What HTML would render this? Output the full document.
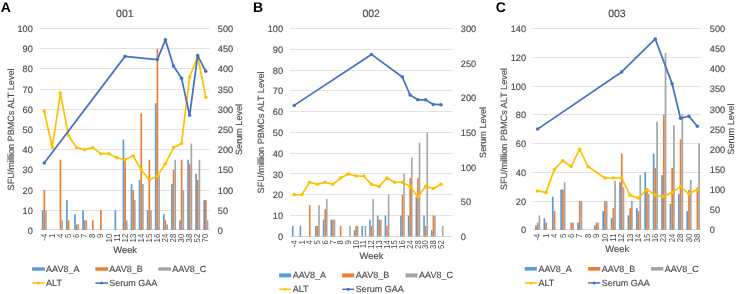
<!DOCTYPE html>
<html><head><meta charset="utf-8"><style>
html,body{margin:0;padding:0;background:#fff;}
body{width:738px;height:294px;overflow:hidden;}
svg{display:block;will-change:transform;}
text{font-family:"Liberation Sans",sans-serif;text-rendering:geometricPrecision;fill:#4a4a4a;stroke:#4a4a4a;stroke-width:0.15px;}
.let{font-size:14px;font-weight:bold;fill:#000;stroke:none;}
.ttl{font-size:10.5px;}
.tk{font-size:9.2px;}
.xt{font-size:8.6px;stroke:none;}
.ax{font-size:9.4px;}
.yt{font-size:9.1px;}
.lg{font-size:9.0px;}
.grid{fill:#E3E3E3;}
.axis{fill:#D9D9D9;}
</style></head><body>
<svg width="738" height="294" viewBox="0 0 738 294">
<text x="0.8" y="12.2" class="let">A</text>
<text x="124.85" y="17.2" class="ttl" text-anchor="middle">001</text>
<rect x="39.9" y="210" width="169.9" height="1" class="grid"/>
<rect x="39.9" y="190" width="169.9" height="1" class="grid"/>
<rect x="39.9" y="169" width="169.9" height="1" class="grid"/>
<rect x="39.9" y="149" width="169.9" height="1" class="grid"/>
<rect x="39.9" y="129" width="169.9" height="1" class="grid"/>
<rect x="39.9" y="109" width="169.9" height="1" class="grid"/>
<rect x="39.9" y="89" width="169.9" height="1" class="grid"/>
<rect x="39.9" y="68" width="169.9" height="1" class="grid"/>
<rect x="39.9" y="48" width="169.9" height="1" class="grid"/>
<rect x="39.9" y="28" width="169.9" height="1" class="grid"/>
<rect x="39.9" y="229" width="169.9" height="1" class="axis"/>
<text x="32.8" y="234.00" class="tk" text-anchor="end">0</text>
<text x="32.8" y="213.81" class="tk" text-anchor="end">10</text>
<text x="32.8" y="193.62" class="tk" text-anchor="end">20</text>
<text x="32.8" y="173.43" class="tk" text-anchor="end">30</text>
<text x="32.8" y="153.24" class="tk" text-anchor="end">40</text>
<text x="32.8" y="133.05" class="tk" text-anchor="end">50</text>
<text x="32.8" y="112.86" class="tk" text-anchor="end">60</text>
<text x="32.8" y="92.67" class="tk" text-anchor="end">70</text>
<text x="32.8" y="72.48" class="tk" text-anchor="end">80</text>
<text x="32.8" y="52.29" class="tk" text-anchor="end">90</text>
<text x="32.8" y="32.10" class="tk" text-anchor="end">100</text>
<text x="217.8" y="234.00" class="tk">0</text>
<text x="217.8" y="213.81" class="tk">50</text>
<text x="217.8" y="193.62" class="tk">100</text>
<text x="217.8" y="173.43" class="tk">150</text>
<text x="217.8" y="153.24" class="tk">200</text>
<text x="217.8" y="133.05" class="tk">250</text>
<text x="217.8" y="112.86" class="tk">300</text>
<text x="217.8" y="92.67" class="tk">350</text>
<text x="217.8" y="72.48" class="tk">400</text>
<text x="217.8" y="52.29" class="tk">450</text>
<text x="217.8" y="32.10" class="tk">500</text>
<text transform="translate(13.7,129.45) rotate(-90)" class="yt" text-anchor="middle">SFU/million PBMCs ALT Level</text>
<text transform="translate(242.4,129.45) rotate(-90)" class="yt" text-anchor="middle">Serum Level</text>
<text transform="translate(46.94,233.80) rotate(-90) scale(0.9,1)" class="xt" text-anchor="end">-4</text>
<text transform="translate(55.01,233.80) rotate(-90) scale(0.9,1)" class="xt" text-anchor="end">1</text>
<text transform="translate(63.09,233.80) rotate(-90) scale(0.9,1)" class="xt" text-anchor="end">4</text>
<text transform="translate(71.17,233.80) rotate(-90) scale(0.9,1)" class="xt" text-anchor="end">5</text>
<text transform="translate(79.24,233.80) rotate(-90) scale(0.9,1)" class="xt" text-anchor="end">6</text>
<text transform="translate(87.32,233.80) rotate(-90) scale(0.9,1)" class="xt" text-anchor="end">7</text>
<text transform="translate(95.40,233.80) rotate(-90) scale(0.9,1)" class="xt" text-anchor="end">8</text>
<text transform="translate(103.47,233.80) rotate(-90) scale(0.9,1)" class="xt" text-anchor="end">9</text>
<text transform="translate(111.55,233.80) rotate(-90) scale(0.9,1)" class="xt" text-anchor="end">10</text>
<text transform="translate(119.62,233.80) rotate(-90) scale(0.9,1)" class="xt" text-anchor="end">11</text>
<text transform="translate(127.70,233.80) rotate(-90) scale(0.9,1)" class="xt" text-anchor="end">12</text>
<text transform="translate(135.78,233.80) rotate(-90) scale(0.9,1)" class="xt" text-anchor="end">13</text>
<text transform="translate(143.85,233.80) rotate(-90) scale(0.9,1)" class="xt" text-anchor="end">14</text>
<text transform="translate(151.93,233.80) rotate(-90) scale(0.9,1)" class="xt" text-anchor="end">15</text>
<text transform="translate(160.00,233.80) rotate(-90) scale(0.9,1)" class="xt" text-anchor="end">16</text>
<text transform="translate(168.08,233.80) rotate(-90) scale(0.9,1)" class="xt" text-anchor="end">24</text>
<text transform="translate(176.16,233.80) rotate(-90) scale(0.9,1)" class="xt" text-anchor="end">28</text>
<text transform="translate(184.23,233.80) rotate(-90) scale(0.9,1)" class="xt" text-anchor="end">30</text>
<text transform="translate(192.31,233.80) rotate(-90) scale(0.9,1)" class="xt" text-anchor="end">38</text>
<text transform="translate(200.39,233.80) rotate(-90) scale(0.9,1)" class="xt" text-anchor="end">52</text>
<text transform="translate(208.46,233.80) rotate(-90) scale(0.9,1)" class="xt" text-anchor="end">70</text>
<text x="125.15" y="252.6" class="ax" text-anchor="middle">Week</text>
<rect x="41.85" y="210.21" width="1.66" height="19.79" fill="#5B9BD5"/>
<rect x="66.08" y="200.12" width="1.66" height="29.88" fill="#5B9BD5"/>
<rect x="74.16" y="214.25" width="1.66" height="15.75" fill="#5B9BD5"/>
<rect x="82.24" y="210.21" width="1.66" height="19.79" fill="#5B9BD5"/>
<rect x="114.54" y="210.21" width="1.66" height="19.79" fill="#5B9BD5"/>
<rect x="122.62" y="139.55" width="1.66" height="90.45" fill="#5B9BD5"/>
<rect x="130.69" y="183.96" width="1.66" height="46.04" fill="#5B9BD5"/>
<rect x="138.77" y="179.93" width="1.66" height="50.07" fill="#5B9BD5"/>
<rect x="146.85" y="210.21" width="1.66" height="19.79" fill="#5B9BD5"/>
<rect x="154.92" y="103.20" width="1.66" height="126.80" fill="#5B9BD5"/>
<rect x="163.00" y="214.25" width="1.66" height="15.75" fill="#5B9BD5"/>
<rect x="171.07" y="183.96" width="1.66" height="46.04" fill="#5B9BD5"/>
<rect x="179.15" y="220.31" width="1.66" height="9.69" fill="#5B9BD5"/>
<rect x="187.23" y="159.74" width="1.66" height="70.26" fill="#5B9BD5"/>
<rect x="195.30" y="173.87" width="1.66" height="56.13" fill="#5B9BD5"/>
<rect x="203.38" y="200.12" width="1.66" height="29.88" fill="#5B9BD5"/>
<rect x="43.51" y="190.02" width="1.66" height="39.98" fill="#ED7D31"/>
<rect x="59.66" y="159.74" width="1.66" height="70.26" fill="#ED7D31"/>
<rect x="67.74" y="220.31" width="1.66" height="9.69" fill="#ED7D31"/>
<rect x="75.82" y="224.34" width="1.66" height="5.66" fill="#ED7D31"/>
<rect x="83.89" y="220.31" width="1.66" height="9.69" fill="#ED7D31"/>
<rect x="91.97" y="220.31" width="1.66" height="9.69" fill="#ED7D31"/>
<rect x="100.04" y="210.21" width="1.66" height="19.79" fill="#ED7D31"/>
<rect x="124.27" y="159.74" width="1.66" height="70.26" fill="#ED7D31"/>
<rect x="132.35" y="190.02" width="1.66" height="39.98" fill="#ED7D31"/>
<rect x="140.42" y="113.30" width="1.66" height="116.70" fill="#ED7D31"/>
<rect x="148.50" y="159.74" width="1.66" height="70.26" fill="#ED7D31"/>
<rect x="156.58" y="48.69" width="1.66" height="181.31" fill="#ED7D31"/>
<rect x="164.65" y="220.31" width="1.66" height="9.69" fill="#ED7D31"/>
<rect x="172.73" y="169.83" width="1.66" height="60.17" fill="#ED7D31"/>
<rect x="180.81" y="159.74" width="1.66" height="70.26" fill="#ED7D31"/>
<rect x="188.88" y="163.77" width="1.66" height="66.23" fill="#ED7D31"/>
<rect x="196.96" y="179.93" width="1.66" height="50.07" fill="#ED7D31"/>
<rect x="205.03" y="200.12" width="1.66" height="29.88" fill="#ED7D31"/>
<rect x="45.17" y="210.21" width="1.66" height="19.79" fill="#A5A5A5"/>
<rect x="61.32" y="220.31" width="1.66" height="9.69" fill="#A5A5A5"/>
<rect x="77.47" y="224.34" width="1.66" height="5.66" fill="#A5A5A5"/>
<rect x="85.55" y="220.31" width="1.66" height="9.69" fill="#A5A5A5"/>
<rect x="125.93" y="220.31" width="1.66" height="9.69" fill="#A5A5A5"/>
<rect x="134.00" y="200.12" width="1.66" height="29.88" fill="#A5A5A5"/>
<rect x="142.08" y="183.96" width="1.66" height="46.04" fill="#A5A5A5"/>
<rect x="150.16" y="210.21" width="1.66" height="19.79" fill="#A5A5A5"/>
<rect x="158.23" y="174.88" width="1.66" height="55.12" fill="#A5A5A5"/>
<rect x="166.31" y="224.34" width="1.66" height="5.66" fill="#A5A5A5"/>
<rect x="174.38" y="159.74" width="1.66" height="70.26" fill="#A5A5A5"/>
<rect x="182.46" y="190.02" width="1.66" height="39.98" fill="#A5A5A5"/>
<rect x="190.54" y="143.58" width="1.66" height="86.42" fill="#A5A5A5"/>
<rect x="198.61" y="159.74" width="1.66" height="70.26" fill="#A5A5A5"/>
<rect x="206.69" y="220.31" width="1.66" height="9.69" fill="#A5A5A5"/>
<polyline points="44.24,111.28 52.31,147.62 60.39,93.11 68.47,135.51 76.54,147.62 84.62,149.64 92.70,147.62 100.77,153.68 108.85,153.68 116.92,157.72 125.00,159.74 133.08,155.70 141.15,169.83 149.23,179.93 157.30,175.89 165.38,163.77 173.46,147.62 181.53,143.58 189.61,76.96 197.69,56.77 205.76,97.15" fill="none" stroke="#FFC000" stroke-width="1.7" stroke-linejoin="round"/>
<circle cx="44.24" cy="111.28" r="1.75" fill="#FFC000"/>
<circle cx="52.31" cy="147.62" r="1.75" fill="#FFC000"/>
<circle cx="60.39" cy="93.11" r="1.75" fill="#FFC000"/>
<circle cx="68.47" cy="135.51" r="1.75" fill="#FFC000"/>
<circle cx="76.54" cy="147.62" r="1.75" fill="#FFC000"/>
<circle cx="84.62" cy="149.64" r="1.75" fill="#FFC000"/>
<circle cx="92.70" cy="147.62" r="1.75" fill="#FFC000"/>
<circle cx="100.77" cy="153.68" r="1.75" fill="#FFC000"/>
<circle cx="108.85" cy="153.68" r="1.75" fill="#FFC000"/>
<circle cx="116.92" cy="157.72" r="1.75" fill="#FFC000"/>
<circle cx="125.00" cy="159.74" r="1.75" fill="#FFC000"/>
<circle cx="133.08" cy="155.70" r="1.75" fill="#FFC000"/>
<circle cx="141.15" cy="169.83" r="1.75" fill="#FFC000"/>
<circle cx="149.23" cy="179.93" r="1.75" fill="#FFC000"/>
<circle cx="157.30" cy="175.89" r="1.75" fill="#FFC000"/>
<circle cx="165.38" cy="163.77" r="1.75" fill="#FFC000"/>
<circle cx="173.46" cy="147.62" r="1.75" fill="#FFC000"/>
<circle cx="181.53" cy="143.58" r="1.75" fill="#FFC000"/>
<circle cx="189.61" cy="76.96" r="1.75" fill="#FFC000"/>
<circle cx="197.69" cy="56.77" r="1.75" fill="#FFC000"/>
<circle cx="205.76" cy="97.15" r="1.75" fill="#FFC000"/>
<polyline points="44.24,162.97 125.00,56.36 157.30,59.59 165.38,39.81 173.46,66.05 181.53,78.17 189.61,115.32 197.69,55.55 205.76,71.30" fill="none" stroke="#4472C4" stroke-width="1.75" stroke-linejoin="round"/>
<circle cx="44.24" cy="162.97" r="1.75" fill="#4472C4"/>
<circle cx="125.00" cy="56.36" r="1.75" fill="#4472C4"/>
<circle cx="157.30" cy="59.59" r="1.75" fill="#4472C4"/>
<circle cx="165.38" cy="39.81" r="1.75" fill="#4472C4"/>
<circle cx="173.46" cy="66.05" r="1.75" fill="#4472C4"/>
<circle cx="181.53" cy="78.17" r="1.75" fill="#4472C4"/>
<circle cx="189.61" cy="115.32" r="1.75" fill="#4472C4"/>
<circle cx="197.69" cy="55.55" r="1.75" fill="#4472C4"/>
<circle cx="205.76" cy="71.30" r="1.75" fill="#4472C4"/>
<rect x="32.10" y="267.30" width="12.8" height="3.4" fill="#5B9BD5"/>
<text x="46.10" y="272.10" class="lg">AAV8_A</text>
<rect x="95.30" y="267.30" width="12.8" height="3.4" fill="#ED7D31"/>
<text x="109.30" y="272.10" class="lg">AAV8_B</text>
<rect x="158.30" y="267.30" width="12.8" height="3.4" fill="#A5A5A5"/>
<text x="172.30" y="272.10" class="lg">AAV8_C</text>
<line x1="32.10" x2="44.90" y1="283.10" y2="283.10" stroke="#FFC000" stroke-width="1.5"/>
<circle cx="38.50" cy="283.10" r="1.5" fill="#FFC000"/>
<text x="46.10" y="285.70" class="lg">ALT</text>
<line x1="95.30" x2="108.10" y1="283.10" y2="283.10" stroke="#4472C4" stroke-width="1.5"/>
<circle cx="101.70" cy="283.10" r="1.5" fill="#4472C4"/>
<text x="109.30" y="285.70" class="lg">Serum GAA</text>
<text x="253.0" y="12.2" class="let">B</text>
<text x="371.20" y="17.2" class="ttl" text-anchor="middle">002</text>
<rect x="289.9" y="215" width="162.6" height="1" class="grid"/>
<rect x="289.9" y="194" width="162.6" height="1" class="grid"/>
<rect x="289.9" y="173" width="162.6" height="1" class="grid"/>
<rect x="289.9" y="153" width="162.6" height="1" class="grid"/>
<rect x="289.9" y="132" width="162.6" height="1" class="grid"/>
<rect x="289.9" y="111" width="162.6" height="1" class="grid"/>
<rect x="289.9" y="90" width="162.6" height="1" class="grid"/>
<rect x="289.9" y="70" width="162.6" height="1" class="grid"/>
<rect x="289.9" y="49" width="162.6" height="1" class="grid"/>
<rect x="289.9" y="28" width="162.6" height="1" class="grid"/>
<rect x="289.9" y="236" width="162.6" height="1" class="axis"/>
<text x="283.0" y="239.90" class="tk" text-anchor="end">0</text>
<text x="283.0" y="219.12" class="tk" text-anchor="end">10</text>
<text x="283.0" y="198.34" class="tk" text-anchor="end">20</text>
<text x="283.0" y="177.56" class="tk" text-anchor="end">30</text>
<text x="283.0" y="156.78" class="tk" text-anchor="end">40</text>
<text x="283.0" y="136.00" class="tk" text-anchor="end">50</text>
<text x="283.0" y="115.22" class="tk" text-anchor="end">60</text>
<text x="283.0" y="94.44" class="tk" text-anchor="end">70</text>
<text x="283.0" y="73.66" class="tk" text-anchor="end">80</text>
<text x="283.0" y="52.88" class="tk" text-anchor="end">90</text>
<text x="283.0" y="32.10" class="tk" text-anchor="end">100</text>
<text x="460.8" y="239.90" class="tk">0</text>
<text x="460.8" y="205.27" class="tk">50</text>
<text x="460.8" y="170.63" class="tk">100</text>
<text x="460.8" y="136.00" class="tk">150</text>
<text x="460.8" y="101.37" class="tk">200</text>
<text x="460.8" y="66.73" class="tk">250</text>
<text x="460.8" y="32.10" class="tk">300</text>
<text transform="translate(264.4,132.40) rotate(-90)" class="yt" text-anchor="middle">SFU/million PBMCs ALT Level</text>
<text transform="translate(485.7,132.40) rotate(-90)" class="yt" text-anchor="middle">Serum Level</text>
<text transform="translate(296.86,240.30) rotate(-90) scale(0.9,1)" class="xt" text-anchor="end">-4</text>
<text transform="translate(304.59,240.30) rotate(-90) scale(0.9,1)" class="xt" text-anchor="end">1</text>
<text transform="translate(312.32,240.30) rotate(-90) scale(0.9,1)" class="xt" text-anchor="end">4</text>
<text transform="translate(320.05,240.30) rotate(-90) scale(0.9,1)" class="xt" text-anchor="end">5</text>
<text transform="translate(327.78,240.30) rotate(-90) scale(0.9,1)" class="xt" text-anchor="end">6</text>
<text transform="translate(335.51,240.30) rotate(-90) scale(0.9,1)" class="xt" text-anchor="end">7</text>
<text transform="translate(343.24,240.30) rotate(-90) scale(0.9,1)" class="xt" text-anchor="end">8</text>
<text transform="translate(350.96,240.30) rotate(-90) scale(0.9,1)" class="xt" text-anchor="end">9</text>
<text transform="translate(358.69,240.30) rotate(-90) scale(0.9,1)" class="xt" text-anchor="end">10</text>
<text transform="translate(366.42,240.30) rotate(-90) scale(0.9,1)" class="xt" text-anchor="end">11</text>
<text transform="translate(374.15,240.30) rotate(-90) scale(0.9,1)" class="xt" text-anchor="end">12</text>
<text transform="translate(381.88,240.30) rotate(-90) scale(0.9,1)" class="xt" text-anchor="end">13</text>
<text transform="translate(389.61,240.30) rotate(-90) scale(0.9,1)" class="xt" text-anchor="end">14</text>
<text transform="translate(397.34,240.30) rotate(-90) scale(0.9,1)" class="xt" text-anchor="end">15</text>
<text transform="translate(405.06,240.30) rotate(-90) scale(0.9,1)" class="xt" text-anchor="end">16</text>
<text transform="translate(412.79,240.30) rotate(-90) scale(0.9,1)" class="xt" text-anchor="end">24</text>
<text transform="translate(420.52,240.30) rotate(-90) scale(0.9,1)" class="xt" text-anchor="end">28</text>
<text transform="translate(428.25,240.30) rotate(-90) scale(0.9,1)" class="xt" text-anchor="end">30</text>
<text transform="translate(435.98,240.30) rotate(-90) scale(0.9,1)" class="xt" text-anchor="end">38</text>
<text transform="translate(443.71,240.30) rotate(-90) scale(0.9,1)" class="xt" text-anchor="end">52</text>
<text x="371.50" y="258.8" class="ax" text-anchor="middle">Week</text>
<rect x="291.89" y="225.91" width="1.58" height="10.59" fill="#5B9BD5"/>
<rect x="299.62" y="225.91" width="1.58" height="10.59" fill="#5B9BD5"/>
<rect x="315.07" y="225.91" width="1.58" height="10.59" fill="#5B9BD5"/>
<rect x="322.80" y="219.68" width="1.58" height="16.82" fill="#5B9BD5"/>
<rect x="330.53" y="219.68" width="1.58" height="16.82" fill="#5B9BD5"/>
<rect x="353.72" y="230.07" width="1.58" height="6.43" fill="#5B9BD5"/>
<rect x="361.44" y="225.91" width="1.58" height="10.59" fill="#5B9BD5"/>
<rect x="369.17" y="219.68" width="1.58" height="16.82" fill="#5B9BD5"/>
<rect x="376.90" y="215.52" width="1.58" height="20.98" fill="#5B9BD5"/>
<rect x="384.63" y="215.52" width="1.58" height="20.98" fill="#5B9BD5"/>
<rect x="400.09" y="215.52" width="1.58" height="20.98" fill="#5B9BD5"/>
<rect x="407.82" y="215.52" width="1.58" height="20.98" fill="#5B9BD5"/>
<rect x="415.54" y="196.82" width="1.58" height="39.68" fill="#5B9BD5"/>
<rect x="423.27" y="215.52" width="1.58" height="20.98" fill="#5B9BD5"/>
<rect x="431.00" y="230.07" width="1.58" height="6.43" fill="#5B9BD5"/>
<rect x="308.93" y="205.13" width="1.58" height="31.37" fill="#ED7D31"/>
<rect x="316.66" y="225.91" width="1.58" height="10.59" fill="#ED7D31"/>
<rect x="324.39" y="209.29" width="1.58" height="27.21" fill="#ED7D31"/>
<rect x="332.11" y="219.68" width="1.58" height="16.82" fill="#ED7D31"/>
<rect x="339.84" y="225.91" width="1.58" height="10.59" fill="#ED7D31"/>
<rect x="355.30" y="225.91" width="1.58" height="10.59" fill="#ED7D31"/>
<rect x="370.76" y="225.91" width="1.58" height="10.59" fill="#ED7D31"/>
<rect x="378.49" y="219.68" width="1.58" height="16.82" fill="#ED7D31"/>
<rect x="386.21" y="225.91" width="1.58" height="10.59" fill="#ED7D31"/>
<rect x="401.67" y="194.74" width="1.58" height="41.76" fill="#ED7D31"/>
<rect x="409.40" y="178.12" width="1.58" height="58.38" fill="#ED7D31"/>
<rect x="417.13" y="178.12" width="1.58" height="58.38" fill="#ED7D31"/>
<rect x="424.86" y="225.91" width="1.58" height="10.59" fill="#ED7D31"/>
<rect x="432.59" y="215.52" width="1.58" height="20.98" fill="#ED7D31"/>
<rect x="318.24" y="205.13" width="1.58" height="31.37" fill="#A5A5A5"/>
<rect x="325.97" y="198.90" width="1.58" height="37.60" fill="#A5A5A5"/>
<rect x="333.70" y="219.68" width="1.58" height="16.82" fill="#A5A5A5"/>
<rect x="349.16" y="225.91" width="1.58" height="10.59" fill="#A5A5A5"/>
<rect x="356.89" y="225.91" width="1.58" height="10.59" fill="#A5A5A5"/>
<rect x="364.61" y="225.91" width="1.58" height="10.59" fill="#A5A5A5"/>
<rect x="372.34" y="198.90" width="1.58" height="37.60" fill="#A5A5A5"/>
<rect x="380.07" y="219.68" width="1.58" height="16.82" fill="#A5A5A5"/>
<rect x="387.80" y="194.74" width="1.58" height="41.76" fill="#A5A5A5"/>
<rect x="403.26" y="173.96" width="1.58" height="62.54" fill="#A5A5A5"/>
<rect x="410.99" y="157.34" width="1.58" height="79.16" fill="#A5A5A5"/>
<rect x="418.71" y="142.79" width="1.58" height="93.71" fill="#A5A5A5"/>
<rect x="426.44" y="132.40" width="1.58" height="104.10" fill="#A5A5A5"/>
<rect x="434.17" y="215.52" width="1.58" height="20.98" fill="#A5A5A5"/>
<rect x="441.90" y="225.91" width="1.58" height="10.59" fill="#A5A5A5"/>
<polyline points="294.16,194.74 301.89,194.74 309.62,182.27 317.35,184.35 325.08,182.27 332.81,184.35 340.54,178.12 348.26,173.96 355.99,176.04 363.72,176.04 371.45,184.35 379.18,186.43 386.91,178.12 394.64,182.27 402.36,182.27 410.09,186.43 417.82,196.82 425.55,186.43 433.28,188.51 441.01,184.35" fill="none" stroke="#FFC000" stroke-width="1.7" stroke-linejoin="round"/>
<circle cx="294.16" cy="194.74" r="1.75" fill="#FFC000"/>
<circle cx="301.89" cy="194.74" r="1.75" fill="#FFC000"/>
<circle cx="309.62" cy="182.27" r="1.75" fill="#FFC000"/>
<circle cx="317.35" cy="184.35" r="1.75" fill="#FFC000"/>
<circle cx="325.08" cy="182.27" r="1.75" fill="#FFC000"/>
<circle cx="332.81" cy="184.35" r="1.75" fill="#FFC000"/>
<circle cx="340.54" cy="178.12" r="1.75" fill="#FFC000"/>
<circle cx="348.26" cy="173.96" r="1.75" fill="#FFC000"/>
<circle cx="355.99" cy="176.04" r="1.75" fill="#FFC000"/>
<circle cx="363.72" cy="176.04" r="1.75" fill="#FFC000"/>
<circle cx="371.45" cy="184.35" r="1.75" fill="#FFC000"/>
<circle cx="379.18" cy="186.43" r="1.75" fill="#FFC000"/>
<circle cx="386.91" cy="178.12" r="1.75" fill="#FFC000"/>
<circle cx="394.64" cy="182.27" r="1.75" fill="#FFC000"/>
<circle cx="402.36" cy="182.27" r="1.75" fill="#FFC000"/>
<circle cx="410.09" cy="186.43" r="1.75" fill="#FFC000"/>
<circle cx="417.82" cy="196.82" r="1.75" fill="#FFC000"/>
<circle cx="425.55" cy="186.43" r="1.75" fill="#FFC000"/>
<circle cx="433.28" cy="188.51" r="1.75" fill="#FFC000"/>
<circle cx="441.01" cy="184.35" r="1.75" fill="#FFC000"/>
<polyline points="294.16,105.39 371.45,54.41 402.36,76.99 410.09,95.00 417.82,99.84 425.55,99.84 433.28,104.42 441.01,104.69" fill="none" stroke="#4472C4" stroke-width="1.75" stroke-linejoin="round"/>
<circle cx="294.16" cy="105.39" r="1.75" fill="#4472C4"/>
<circle cx="371.45" cy="54.41" r="1.75" fill="#4472C4"/>
<circle cx="402.36" cy="76.99" r="1.75" fill="#4472C4"/>
<circle cx="410.09" cy="95.00" r="1.75" fill="#4472C4"/>
<circle cx="417.82" cy="99.84" r="1.75" fill="#4472C4"/>
<circle cx="425.55" cy="99.84" r="1.75" fill="#4472C4"/>
<circle cx="433.28" cy="104.42" r="1.75" fill="#4472C4"/>
<circle cx="441.01" cy="104.69" r="1.75" fill="#4472C4"/>
<rect x="279.10" y="273.40" width="12.0" height="4.0" fill="#5B9BD5"/>
<text x="292.70" y="278.10" class="lg">AAV8_A</text>
<rect x="342.20" y="273.40" width="12.0" height="4.0" fill="#ED7D31"/>
<text x="355.80" y="278.10" class="lg">AAV8_B</text>
<rect x="405.50" y="273.40" width="12.0" height="4.0" fill="#A5A5A5"/>
<text x="419.10" y="278.10" class="lg">AAV8_C</text>
<line x1="279.10" x2="291.10" y1="289.30" y2="289.30" stroke="#FFC000" stroke-width="1.5"/>
<circle cx="285.10" cy="289.30" r="1.5" fill="#FFC000"/>
<text x="292.70" y="292.10" class="lg">ALT</text>
<line x1="342.20" x2="354.20" y1="289.30" y2="289.30" stroke="#4472C4" stroke-width="1.5"/>
<circle cx="348.20" cy="289.30" r="1.5" fill="#4472C4"/>
<text x="355.80" y="292.10" class="lg">Serum GAA</text>
<text x="495.8" y="12.2" class="let">C</text>
<text x="616.95" y="17.2" class="ttl" text-anchor="middle">003</text>
<rect x="533.0" y="201" width="167.9" height="1" class="grid"/>
<rect x="533.0" y="172" width="167.9" height="1" class="grid"/>
<rect x="533.0" y="143" width="167.9" height="1" class="grid"/>
<rect x="533.0" y="114" width="167.9" height="1" class="grid"/>
<rect x="533.0" y="86" width="167.9" height="1" class="grid"/>
<rect x="533.0" y="57" width="167.9" height="1" class="grid"/>
<rect x="533.0" y="28" width="167.9" height="1" class="grid"/>
<rect x="533.0" y="229" width="167.9" height="1" class="axis"/>
<text x="526.1" y="233.35" class="tk" text-anchor="end">0</text>
<text x="526.1" y="204.60" class="tk" text-anchor="end">20</text>
<text x="526.1" y="175.85" class="tk" text-anchor="end">40</text>
<text x="526.1" y="147.10" class="tk" text-anchor="end">60</text>
<text x="526.1" y="118.35" class="tk" text-anchor="end">80</text>
<text x="526.1" y="89.60" class="tk" text-anchor="end">100</text>
<text x="526.1" y="60.85" class="tk" text-anchor="end">120</text>
<text x="526.1" y="32.10" class="tk" text-anchor="end">140</text>
<text x="709.8" y="233.35" class="tk">0</text>
<text x="709.8" y="213.22" class="tk">50</text>
<text x="709.8" y="193.10" class="tk">100</text>
<text x="709.8" y="172.97" class="tk">150</text>
<text x="709.8" y="152.85" class="tk">200</text>
<text x="709.8" y="132.72" class="tk">250</text>
<text x="709.8" y="112.60" class="tk">300</text>
<text x="709.8" y="92.47" class="tk">350</text>
<text x="709.8" y="72.35" class="tk">400</text>
<text x="709.8" y="52.23" class="tk">450</text>
<text x="709.8" y="32.10" class="tk">500</text>
<text transform="translate(507.4,129.12) rotate(-90)" class="yt" text-anchor="middle">SFU/million PBMCs ALT Level</text>
<text transform="translate(734.4,129.12) rotate(-90)" class="yt" text-anchor="middle">Serum Level</text>
<text transform="translate(540.30,233.70) rotate(-90) scale(0.9,1)" class="xt" text-anchor="end">-4</text>
<text transform="translate(548.71,233.70) rotate(-90) scale(0.9,1)" class="xt" text-anchor="end">1</text>
<text transform="translate(557.11,233.70) rotate(-90) scale(0.9,1)" class="xt" text-anchor="end">4</text>
<text transform="translate(565.52,233.70) rotate(-90) scale(0.9,1)" class="xt" text-anchor="end">5</text>
<text transform="translate(573.92,233.70) rotate(-90) scale(0.9,1)" class="xt" text-anchor="end">6</text>
<text transform="translate(582.33,233.70) rotate(-90) scale(0.9,1)" class="xt" text-anchor="end">7</text>
<text transform="translate(590.73,233.70) rotate(-90) scale(0.9,1)" class="xt" text-anchor="end">8</text>
<text transform="translate(599.14,233.70) rotate(-90) scale(0.9,1)" class="xt" text-anchor="end">9</text>
<text transform="translate(607.54,233.70) rotate(-90) scale(0.9,1)" class="xt" text-anchor="end">10</text>
<text transform="translate(615.95,233.70) rotate(-90) scale(0.9,1)" class="xt" text-anchor="end">11</text>
<text transform="translate(624.35,233.70) rotate(-90) scale(0.9,1)" class="xt" text-anchor="end">12</text>
<text transform="translate(632.76,233.70) rotate(-90) scale(0.9,1)" class="xt" text-anchor="end">13</text>
<text transform="translate(641.16,233.70) rotate(-90) scale(0.9,1)" class="xt" text-anchor="end">14</text>
<text transform="translate(649.57,233.70) rotate(-90) scale(0.9,1)" class="xt" text-anchor="end">15</text>
<text transform="translate(657.97,233.70) rotate(-90) scale(0.9,1)" class="xt" text-anchor="end">16</text>
<text transform="translate(666.38,233.70) rotate(-90) scale(0.9,1)" class="xt" text-anchor="end">23</text>
<text transform="translate(674.78,233.70) rotate(-90) scale(0.9,1)" class="xt" text-anchor="end">24</text>
<text transform="translate(683.19,233.70) rotate(-90) scale(0.9,1)" class="xt" text-anchor="end">28</text>
<text transform="translate(691.59,233.70) rotate(-90) scale(0.9,1)" class="xt" text-anchor="end">30</text>
<text transform="translate(700.00,233.70) rotate(-90) scale(0.9,1)" class="xt" text-anchor="end">38</text>
<text x="617.25" y="252.3" class="ax" text-anchor="middle">Week</text>
<rect x="535.12" y="225.44" width="1.72" height="4.46" fill="#5B9BD5"/>
<rect x="543.52" y="218.25" width="1.72" height="11.65" fill="#5B9BD5"/>
<rect x="551.93" y="196.69" width="1.72" height="33.21" fill="#5B9BD5"/>
<rect x="560.33" y="189.50" width="1.72" height="40.40" fill="#5B9BD5"/>
<rect x="577.14" y="222.56" width="1.72" height="7.34" fill="#5B9BD5"/>
<rect x="593.95" y="225.44" width="1.72" height="4.46" fill="#5B9BD5"/>
<rect x="602.36" y="211.06" width="1.72" height="18.84" fill="#5B9BD5"/>
<rect x="610.76" y="218.25" width="1.72" height="11.65" fill="#5B9BD5"/>
<rect x="619.17" y="182.31" width="1.72" height="47.59" fill="#5B9BD5"/>
<rect x="627.57" y="215.38" width="1.72" height="14.53" fill="#5B9BD5"/>
<rect x="635.98" y="208.19" width="1.72" height="21.71" fill="#5B9BD5"/>
<rect x="644.38" y="172.25" width="1.72" height="57.65" fill="#5B9BD5"/>
<rect x="652.79" y="153.56" width="1.72" height="76.34" fill="#5B9BD5"/>
<rect x="661.19" y="175.12" width="1.72" height="54.78" fill="#5B9BD5"/>
<rect x="669.60" y="203.88" width="1.72" height="26.03" fill="#5B9BD5"/>
<rect x="678.00" y="193.81" width="1.72" height="36.09" fill="#5B9BD5"/>
<rect x="686.41" y="211.06" width="1.72" height="18.84" fill="#5B9BD5"/>
<rect x="536.84" y="222.56" width="1.72" height="7.34" fill="#ED7D31"/>
<rect x="545.25" y="222.56" width="1.72" height="7.34" fill="#ED7D31"/>
<rect x="553.65" y="211.06" width="1.72" height="18.84" fill="#ED7D31"/>
<rect x="562.06" y="189.50" width="1.72" height="40.40" fill="#ED7D31"/>
<rect x="570.46" y="222.56" width="1.72" height="7.34" fill="#ED7D31"/>
<rect x="578.87" y="201.00" width="1.72" height="28.90" fill="#ED7D31"/>
<rect x="595.68" y="222.56" width="1.72" height="7.34" fill="#ED7D31"/>
<rect x="604.08" y="201.00" width="1.72" height="28.90" fill="#ED7D31"/>
<rect x="612.49" y="208.19" width="1.72" height="21.71" fill="#ED7D31"/>
<rect x="620.89" y="153.56" width="1.72" height="76.34" fill="#ED7D31"/>
<rect x="629.30" y="208.19" width="1.72" height="21.71" fill="#ED7D31"/>
<rect x="637.70" y="211.06" width="1.72" height="18.84" fill="#ED7D31"/>
<rect x="646.11" y="190.94" width="1.72" height="38.96" fill="#ED7D31"/>
<rect x="654.51" y="167.94" width="1.72" height="61.96" fill="#ED7D31"/>
<rect x="662.92" y="114.75" width="1.72" height="115.15" fill="#ED7D31"/>
<rect x="671.32" y="167.94" width="1.72" height="61.96" fill="#ED7D31"/>
<rect x="679.73" y="139.19" width="1.72" height="90.71" fill="#ED7D31"/>
<rect x="688.13" y="190.07" width="1.72" height="39.83" fill="#ED7D31"/>
<rect x="696.54" y="187.34" width="1.72" height="42.56" fill="#ED7D31"/>
<rect x="538.56" y="215.38" width="1.72" height="14.53" fill="#A5A5A5"/>
<rect x="563.78" y="182.31" width="1.72" height="47.59" fill="#A5A5A5"/>
<rect x="572.18" y="222.56" width="1.72" height="7.34" fill="#A5A5A5"/>
<rect x="580.59" y="201.00" width="1.72" height="28.90" fill="#A5A5A5"/>
<rect x="597.40" y="222.56" width="1.72" height="7.34" fill="#A5A5A5"/>
<rect x="605.80" y="201.00" width="1.72" height="28.90" fill="#A5A5A5"/>
<rect x="614.21" y="180.88" width="1.72" height="49.03" fill="#A5A5A5"/>
<rect x="622.61" y="187.34" width="1.72" height="42.56" fill="#A5A5A5"/>
<rect x="631.02" y="201.00" width="1.72" height="28.90" fill="#A5A5A5"/>
<rect x="639.42" y="175.12" width="1.72" height="54.78" fill="#A5A5A5"/>
<rect x="647.83" y="193.81" width="1.72" height="36.09" fill="#A5A5A5"/>
<rect x="656.23" y="121.94" width="1.72" height="107.96" fill="#A5A5A5"/>
<rect x="664.64" y="52.94" width="1.72" height="176.96" fill="#A5A5A5"/>
<rect x="673.04" y="125.24" width="1.72" height="104.66" fill="#A5A5A5"/>
<rect x="681.45" y="114.75" width="1.72" height="115.15" fill="#A5A5A5"/>
<rect x="689.85" y="179.87" width="1.72" height="50.03" fill="#A5A5A5"/>
<rect x="698.26" y="143.50" width="1.72" height="86.40" fill="#A5A5A5"/>
<polyline points="537.60,190.94 546.01,192.38 554.41,169.38 562.82,160.75 571.22,166.50 579.63,149.25 588.03,166.50 604.84,178.00 613.25,178.00 621.65,178.00 630.06,195.25 638.46,198.12 646.87,189.50 655.27,195.25 663.68,196.69 672.08,192.38 680.49,186.62 688.89,193.81 697.30,189.50" fill="none" stroke="#FFC000" stroke-width="1.7" stroke-linejoin="round"/>
<circle cx="537.60" cy="190.94" r="1.75" fill="#FFC000"/>
<circle cx="546.01" cy="192.38" r="1.75" fill="#FFC000"/>
<circle cx="554.41" cy="169.38" r="1.75" fill="#FFC000"/>
<circle cx="562.82" cy="160.75" r="1.75" fill="#FFC000"/>
<circle cx="571.22" cy="166.50" r="1.75" fill="#FFC000"/>
<circle cx="579.63" cy="149.25" r="1.75" fill="#FFC000"/>
<circle cx="588.03" cy="166.50" r="1.75" fill="#FFC000"/>
<circle cx="604.84" cy="178.00" r="1.75" fill="#FFC000"/>
<circle cx="613.25" cy="178.00" r="1.75" fill="#FFC000"/>
<circle cx="621.65" cy="178.00" r="1.75" fill="#FFC000"/>
<circle cx="630.06" cy="195.25" r="1.75" fill="#FFC000"/>
<circle cx="638.46" cy="198.12" r="1.75" fill="#FFC000"/>
<circle cx="646.87" cy="189.50" r="1.75" fill="#FFC000"/>
<circle cx="655.27" cy="195.25" r="1.75" fill="#FFC000"/>
<circle cx="663.68" cy="196.69" r="1.75" fill="#FFC000"/>
<circle cx="672.08" cy="192.38" r="1.75" fill="#FFC000"/>
<circle cx="680.49" cy="186.62" r="1.75" fill="#FFC000"/>
<circle cx="688.89" cy="193.81" r="1.75" fill="#FFC000"/>
<circle cx="697.30" cy="189.50" r="1.75" fill="#FFC000"/>
<polyline points="537.60,129.12 621.65,71.97 655.27,38.97 672.08,83.64 680.49,118.26 688.89,116.25 697.30,126.31" fill="none" stroke="#4472C4" stroke-width="1.75" stroke-linejoin="round"/>
<circle cx="537.60" cy="129.12" r="1.75" fill="#4472C4"/>
<circle cx="621.65" cy="71.97" r="1.75" fill="#4472C4"/>
<circle cx="655.27" cy="38.97" r="1.75" fill="#4472C4"/>
<circle cx="672.08" cy="83.64" r="1.75" fill="#4472C4"/>
<circle cx="680.49" cy="118.26" r="1.75" fill="#4472C4"/>
<circle cx="688.89" cy="116.25" r="1.75" fill="#4472C4"/>
<circle cx="697.30" cy="126.31" r="1.75" fill="#4472C4"/>
<rect x="524.70" y="267.00" width="12.2" height="3.6" fill="#5B9BD5"/>
<text x="538.40" y="271.90" class="lg">AAV8_A</text>
<rect x="588.10" y="267.00" width="12.2" height="3.6" fill="#ED7D31"/>
<text x="601.80" y="271.90" class="lg">AAV8_B</text>
<rect x="651.10" y="267.00" width="12.2" height="3.6" fill="#A5A5A5"/>
<text x="664.80" y="271.90" class="lg">AAV8_C</text>
<line x1="524.70" x2="536.90" y1="282.90" y2="282.90" stroke="#FFC000" stroke-width="1.5"/>
<circle cx="530.80" cy="282.90" r="1.5" fill="#FFC000"/>
<text x="538.40" y="285.60" class="lg">ALT</text>
<line x1="588.10" x2="600.30" y1="282.90" y2="282.90" stroke="#4472C4" stroke-width="1.5"/>
<circle cx="594.20" cy="282.90" r="1.5" fill="#4472C4"/>
<text x="601.80" y="285.60" class="lg">Serum GAA</text>
</svg>
</body></html>
